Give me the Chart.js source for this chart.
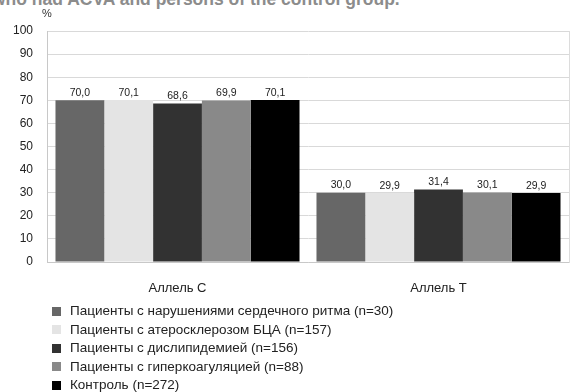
<!DOCTYPE html>
<html>
<head>
<meta charset="utf-8">
<script src="https://cdn.jsdelivr.net/npm/chart.js@4/dist/chart.umd.min.js"></script>
<style>
  html, body { margin: 0; padding: 0; background: #fff; }
  #wrap { position: relative; width: 571px; height: 392px; overflow: hidden; font-family: "Liberation Sans", Arial, sans-serif; }
  #cap { position: absolute; left: -8px; top: -11px; font: bold 17.5px "Liberation Sans", Arial, sans-serif; color: #8c8c8c; white-space: nowrap; }
  #chart { position: absolute; left: 0; top: 0; }
  #legend { position: absolute; left: 52px; top: 302px; font-size: 13.5px; color: #222; }
  #legend div { height: 18.5px; line-height: 18.5px; display: flex; align-items: center; white-space: nowrap; }
  #legend span.sw { display: inline-block; width: 9px; height: 9px; margin-right: 9px; }
</style>
</head>
<body>
<div id="wrap">
  <div id="cap">who had ACVA and persons of the control group.</div>
  <canvas id="chart" width="571" height="392"></canvas>
  <div id="legend"></div>
</div>
<script>
// Alleles on the x axis
const categories = ["Аллель С", "Аллель Т"];

// Patient groups (one bar per group in each allele)
const groupNames = [
  "Пациенты с нарушениями сердечного ритма (n=30)",
  "Пациенты с атеросклерозом БЦА (n=157)",
  "Пациенты с дислипидемией (n=156)",
  "Пациенты с гиперкоагуляцией (n=88)",
  "Контроль (n=272)"
];

// Allele frequency, %
const rhythmDisorders = [70.0, 30.0];
const atherosclerosis = [70.1, 29.9];
const dyslipidemia    = [68.6, 31.4];
const hypercoagulation = [69.9, 30.1];
const control         = [70.1, 29.9];

const yTicks = [0, 10, 20, 30, 40, 50, 60, 70, 80, 90, 100];

const groupColors = ["#676767", "#e4e4e4", "#323232", "#898989", "#000000"];
const seriesValues = [rhythmDisorders, atherosclerosis, dyslipidemia, hypercoagulation, control];

const fmt = v => v.toFixed(1).replace(".", ",");

// Values printed above each bar
const valueLabels = {
  id: "valueLabels",
  afterDatasetsDraw(chart) {
    const ctx = chart.ctx;
    ctx.save();
    ctx.font = '10.5px "Liberation Sans", Arial, sans-serif';
    ctx.fillStyle = "#222";
    ctx.textAlign = "center";
    ctx.textBaseline = "bottom";
    chart.data.datasets.forEach((ds, i) => {
      chart.getDatasetMeta(i).data.forEach((bar, j) => {
        ctx.fillText(fmt(ds.data[j]), bar.x, bar.y - 2);
      });
    });
    // unit label over the value axis
    ctx.font = '11px "Liberation Sans", Arial, sans-serif';
    ctx.fillStyle = "#333";
    ctx.textBaseline = "middle";
    ctx.fillText("%", chart.chartArea.left, chart.chartArea.top - 17);
    ctx.restore();
  }
};

new Chart(document.getElementById("chart"), {
  type: "bar",
  data: {
    labels: categories,
    datasets: groupNames.map((name, i) => ({
      label: name,
      data: seriesValues[i],
      backgroundColor: groupColors[i],
      borderWidth: 0,
      categoryPercentage: 0.935,
      barPercentage: 1.0
    }))
  },
  options: {
    responsive: false,
    animation: false,
    layout: { padding: { top: 31, right: 0, left: 0, bottom: 0 } },
    plugins: { legend: { display: false }, tooltip: { enabled: false } },
    scales: {
      x: {
        grid: { display: false },
        border: { color: "#c8c8c8", width: 1 },
        ticks: { padding: 11, color: "#222", font: { family: '"Liberation Sans", Arial, sans-serif', size: 13 } },
        afterFit(s) { s.height = 130; }
      },
      y: {
        min: 0, max: 100,
        afterBuildTicks(s) { s.ticks = yTicks.map(v => ({ value: v })); },
        grid: { color: "#d9d9d9", drawTicks: false },
        border: { color: "#c8c8c8", width: 1 },
        ticks: { padding: 14, color: "#222", font: { family: '"Liberation Sans", Arial, sans-serif', size: 12 } },
        afterFit(s) { s.width = 47; }
      },
      yr: {
        position: "right",
        min: 0, max: 100,
        grid: { drawOnChartArea: false, drawTicks: false },
        border: { color: "#dcdcdc", width: 1 },
        ticks: { display: false },
        afterFit(s) { s.width = 2; }
      }
    }
  },
  plugins: [valueLabels]
});

// Legend list, one group per row
const legend = document.getElementById("legend");
groupNames.forEach((name, i) => {
  const row = document.createElement("div");
  const sw = document.createElement("span");
  sw.className = "sw";
  sw.style.background = groupColors[i];
  row.appendChild(sw);
  row.appendChild(document.createTextNode(name));
  legend.appendChild(row);
});
</script>
</body>
</html>
